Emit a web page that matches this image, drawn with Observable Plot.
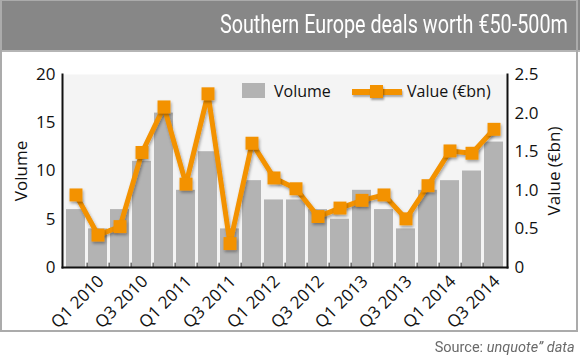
<!DOCTYPE html>
<html><head><meta charset="utf-8">
<script src="https://cdn.jsdelivr.net/npm/d3@7"></script>
<script src="https://cdn.jsdelivr.net/npm/@observablehq/plot@0.6"></script>
<style>
body{margin:0;background:#fff;width:580px;height:358px;overflow:hidden;position:relative;font-family:"Open Sans",sans-serif}
#frame{position:absolute;left:0;top:0;width:578px;height:332px;box-sizing:border-box;border:2px solid #ababab;border-top:1px solid #ababab;pointer-events:none;z-index:2}
#header{position:absolute;left:0;top:0;width:580px;background:#878787;border-bottom:2px solid #b5b5b5;box-sizing:border-box;height:52px}
#title{position:absolute;right:12px;top:0;line-height:50px;color:#fff;font-family:Roboto,"Liberation Sans",sans-serif;font-size:25px;white-space:nowrap;transform-origin:100% 50%}
#chart{position:absolute;left:2px;top:53px}
#source{position:absolute;right:5px;top:338px;font-family:Roboto,"Liberation Sans",sans-serif;font-size:15px;line-height:18px;color:#6a6a6a;white-space:nowrap;transform-origin:100% 50%;z-index:3}
#legend{position:absolute;left:0;top:0;width:580px;height:358px;pointer-events:none;font-size:16px;color:#111;z-index:3}
.sw{position:absolute}
.lt{position:absolute;line-height:20px}
</style></head>
<body>
<div id="header"><div id="title">Southern Europe deals worth €50-500m</div></div>
<div id="chart"></div>
<div id="frame"></div>
<div id="source">Source: <i>unquote” data</i></div>
<div id="legend">
  <div class="sw" style="left:242px;top:83px;width:23px;height:15px;background:#b3b3b3"></div>
  <div class="lt" style="left:274px;top:81px">Volume</div>
  <div class="sw" style="left:352px;top:89px;width:50px;height:6px;background:#f39200;box-shadow:1px 2px 2px rgba(0,0,0,0.3)"></div>
  <div class="sw" style="left:370px;top:85px;width:13px;height:13px;background:#f39200;box-shadow:1px 2px 2px rgba(0,0,0,0.35)"></div>
  <div class="lt" style="left:407px;top:81px">Value (€bn)</div>
</div>
<script>
const quarters = ["Q1 2010","Q2 2010","Q3 2010","Q4 2010","Q1 2011","Q2 2011","Q3 2011","Q4 2011","Q1 2012","Q2 2012","Q3 2012","Q4 2012","Q1 2013","Q2 2013","Q3 2013","Q4 2013","Q1 2014","Q2 2014","Q3 2014","Q4 2014"];
const volume = [6,4,6,11,16,8,12,4,9,7,7,6,5,8,6,4,8,9,10,13];
const value = [0.94,0.42,0.53,1.49,2.08,1.08,2.25,0.31,1.61,1.16,1.02,0.66,0.77,0.87,0.94,0.63,1.06,1.51,1.48,1.79];
const volumeTicks = [0,5,10,15,20];
const valueTicks = [0,0.5,1,1.5,2,2.5];
const labelQuarters = quarters.filter(q => q.startsWith("Q1") || q.startsWith("Q3"));

// condense header/source text to the reference widths
function condense(id, target) {
  const el = document.getElementById(id);
  const w = el.getBoundingClientRect().width;
  el.style.transform = `scaleX(${target / w})`;
}
condense("title", 348);
condense("source", 140);

const VMAX = 20, VALMAX = 2.5, K = VMAX / VALMAX;
const W = 574, H = 305, ML = 60, MR = 69, MT = 21, MB = 91;
const step = (W - ML - MR) / (quarters.length - 0.13 + 0.12);
const data = quarters.map((q, i) => ({q, volume: volume[i], value: value[i]}));
const orange = "#f39200";

const chart = Plot.plot({
  width: W, height: H,
  marginLeft: ML, marginRight: MR, marginTop: MT, marginBottom: MB,
  style: {fontFamily: "'Open Sans', sans-serif", fontSize: "16px", color: "#111", background: "transparent", overflow: "visible"},
  x: {domain: quarters, paddingInner: 0.13, paddingOuter: 0.06, axis: null},
  y: {domain: [0, VMAX], axis: null},
  marks: [
    Plot.frame({fill: "#f4f4f4", stroke: null}),
    Plot.barY(data, {x: "q", y: "volume", fill: "#b3b3b3"}),
    Plot.ruleX(quarters.slice(0, -1), {x: d => d, dx: step / 2, y1: 0, y2: 0.45, stroke: "#222", strokeWidth: 1}),
    Plot.axisY(volumeTicks, {anchor: "left", tickSize: 0, tickPadding: 7, label: "Volume", labelAnchor: "center", labelArrow: "none", labelOffset: 48, fontSize: 17}),
    Plot.axisY(valueTicks.map(v => v * K), {anchor: "right", tickSize: 0, tickPadding: 7, tickFormat: d => d === 0 ? "0" : (d / K).toFixed(1), label: "Value (€bn)", labelAnchor: "center", labelArrow: "none", labelOffset: 52, fontSize: 17}),
    Plot.axisX(labelQuarters, {anchor: "bottom", tickSize: 0, tickRotate: -45, tickPadding: 0, dx: 25, dy: 11, label: null, fontSize: 17}),
    Plot.lineY(data, {x: "q", y: d => d.value * K, stroke: orange, strokeWidth: 5}),
    Plot.dot(data, {x: "q", y: d => d.value * K, symbol: "square", r: 7.3, fill: orange, stroke: null}),
    Plot.frame({anchor: "left", stroke: "#111", strokeWidth: 2}),
    Plot.frame({anchor: "right", stroke: "#111", strokeWidth: 2}),
    Plot.frame({anchor: "bottom", stroke: "#111", strokeWidth: 2})
  ]
});
document.getElementById("chart").appendChild(chart);
const svg = d3.select(chart);
svg.insert("defs", ":first-child").html('<filter id="sh" x="-20%" y="-20%" width="140%" height="140%"><feDropShadow dx="1" dy="2" stdDeviation="1.5" flood-color="#000" flood-opacity="0.35"/></filter>');
svg.selectAll('g[aria-label="line"], g[aria-label="dot"]').attr("filter", "url(#sh)");
</script>
</body></html>
